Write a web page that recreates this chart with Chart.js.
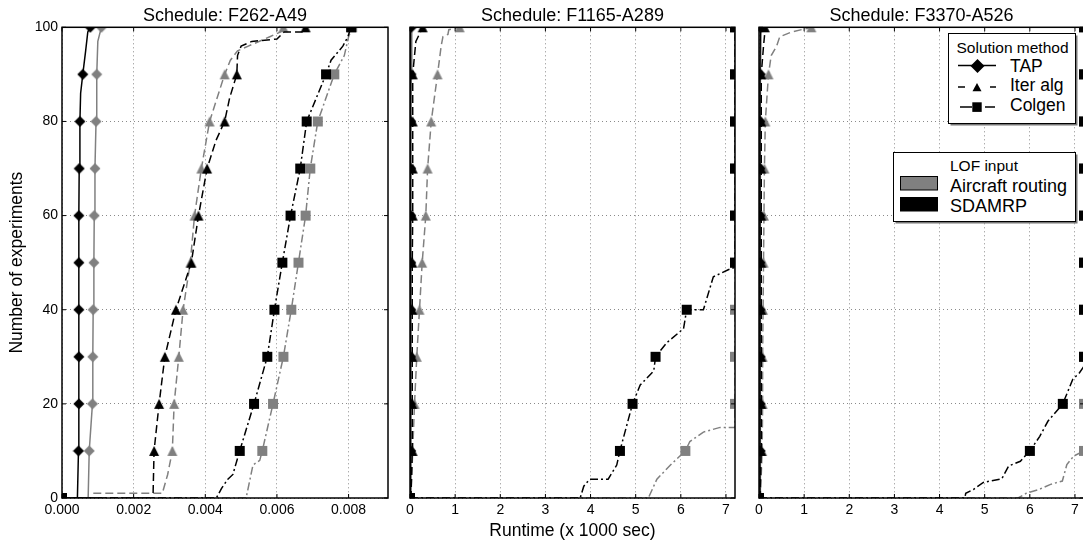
<!DOCTYPE html>
<html>
<head>
<meta charset="utf-8">
<script src="https://cdn.jsdelivr.net/npm/chart.js@4.4.0/dist/chart.umd.min.js"></script>
<style>
  html, body { margin: 0; padding: 0; background: #fff; width: 1083px; height: 545px; overflow: hidden; position: relative; }
  canvas { position: absolute; top: 0; }
  #legends { position: absolute; left: 880px; top: 28px; }
  #legends text { font-family: 'Liberation Sans', Arial, sans-serif; fill: #000; }
</style>
</head>
<body>
<canvas id="p1" width="450" height="545" style="left:0px"></canvas>
<canvas id="p2" width="349" height="545" style="left:398px"></canvas>
<canvas id="p3" width="353" height="545" style="left:745px"></canvas>

<svg id="legends" width="203" height="200">
  <!-- Solution method -->
  <rect x="70.5" y="7.5" width="127" height="90" fill="#777"/>
  <rect x="68.5" y="5.5" width="127" height="90" fill="#fff" stroke="#000" stroke-width="1"/>
  <text x="132.5" y="25" font-size="15.5" text-anchor="middle">Solution method</text>
  <line x1="78" y1="37.5" x2="116" y2="37.5" stroke="#000" stroke-width="1.5"/>
  <polygon points="97.5,31 104.5,38 97.5,45 90.5,38" fill="#000"/>
  <text x="130" y="43.5" font-size="17.5">TAP</text>
  <line x1="78" y1="59" x2="85" y2="59" stroke="#000" stroke-width="1.5"/>
  <line x1="110" y1="59" x2="116" y2="59" stroke="#000" stroke-width="1.5"/>
  <polygon points="97,55 101.5,63.3 92.5,63.3" fill="#000"/>
  <text x="130" y="63" font-size="17.5">Iter alg</text>
  <line x1="80" y1="79" x2="92" y2="79" stroke="#000" stroke-width="1.5"/>
  <line x1="105" y1="79" x2="115" y2="79" stroke="#000" stroke-width="1.5"/>
  <rect x="92.3" y="74.3" width="9.4" height="9.6" fill="#000"/>
  <text x="130" y="83" font-size="17.5">Colgen</text>
  <!-- LOF input -->
  <rect x="15.5" y="126.5" width="182" height="69" fill="#777"/>
  <rect x="13.5" y="124.5" width="182" height="69" fill="#fff" stroke="#000" stroke-width="1"/>
  <text x="104" y="143" font-size="15.5" text-anchor="middle">LOF input</text>
  <rect x="20.5" y="148.5" width="37" height="13.5" fill="#808080" stroke="#000" stroke-width="1"/>
  <text x="70" y="163.7" font-size="18">Aircraft routing</text>
  <rect x="20.5" y="169.5" width="37" height="13.5" fill="#000" stroke="#000" stroke-width="1"/>
  <text x="70" y="183.7" font-size="18">SDAMRP</text>
</svg>

<script>
// cumulative number of experiments solved vs runtime (x 1000 sec)
// panel 1: F262-A49
const p1TapSdamrp = [[0,0],[0.00043,0],[0.00046,10],[0.00047,20],[0.00047,30],[0.00047,40],[0.00047,50],[0.00047,60],[0.00048,70],[0.0005,80],[0.00052,86],[0.00058,90],[0.00066,95],[0.00072,99],[0.00079,100]];
const p1TapAir    = [[0,0],[0.00073,0],[0.00076,10],[0.00085,20],[0.00086,30],[0.00087,40],[0.00089,50],[0.0009,60],[0.00092,70],[0.00095,80],[0.00097,90],[0.001,97],[0.0011,100]];
const p1IterSdamrp = [[0,0],[0.00254,0],[0.00257,10],[0.00271,20],[0.00287,30],[0.00318,40],[0.00361,50],[0.00381,60],[0.00405,70],[0.0043,76],[0.00454,80],[0.00468,85],[0.00488,90],[0.0049,94],[0.005,96],[0.0053,97],[0.006,97.5],[0.0062,99],[0.0067,99],[0.0068,100]];
const p1IterAir    = [[0,0],[0.00087,0],[0.00087,1],[0.0028,1],[0.00295,5],[0.00308,10],[0.00313,20],[0.00326,30],[0.00338,40],[0.00358,50],[0.0037,60],[0.00389,70],[0.00412,80],[0.00454,90],[0.0047,93],[0.0049,95],[0.0052,96],[0.0058,98],[0.0061,99],[0.00618,100]];
const p1ColSdamrp = [[0,0],[0.00431,0],[0.00445,2],[0.00463,4],[0.00477,5],[0.00496,10],[0.00536,20],[0.00573,30],[0.00593,40],[0.00615,50],[0.00638,60],[0.00665,70],[0.00683,80],[0.00737,90],[0.00751,93],[0.00784,96],[0.00798,98],[0.00807,100]];
const p1ColAir    = [[0,0],[0.00514,0],[0.00533,7],[0.00552,8],[0.00559,10],[0.00589,20],[0.00618,30],[0.0064,40],[0.0066,50],[0.0068,60],[0.00693,70],[0.00714,80],[0.0076,90],[0.00788,94],[0.008,98],[0.0081,100]];

// panel 2: F1165-A289
const p2TapSdamrp = [[0,0],[0.01,0],[0.01,10],[0.01,20],[0.01,30],[0.01,40],[0.01,50],[0.01,60],[0.01,70],[0.01,80],[0.01,90],[0.02,100]];
const p2TapAir    = [[0,0],[0.02,0],[0.02,10],[0.02,20],[0.02,30],[0.02,40],[0.02,50],[0.02,60],[0.02,70],[0.02,80],[0.03,90],[0.04,100]];
const p2IterSdamrp = [[0,0],[0.02,0],[0.05,10],[0.05,20],[0.05,30],[0.05,40],[0.05,50],[0.06,60],[0.06,70],[0.06,80],[0.06,90],[0.13,97],[0.28,100]];
const p2IterAir    = [[0,0],[0.02,0],[0.06,10],[0.1,20],[0.15,30],[0.21,40],[0.27,50],[0.35,60],[0.39,70],[0.47,80],[0.61,90],[0.69,96],[0.73,98],[0.84,98.5],[0.86,99.5],[1.1,100]];
const p2ColSdamrp = [[0,0],[3.77,0],[3.85,2.5],[3.98,4],[4.39,4],[4.58,7],[4.65,10],[4.93,20],[5.1,24],[5.4,27],[5.44,30],[5.69,33],[6.06,36],[6.13,40],[6.5,40],[6.72,47],[7.05,48.5],[7.2,49],[7.2,50],[7.2,60],[7.2,70],[7.2,80],[7.2,90],[7.2,100]];
const p2ColAir    = [[0,0],[5.28,0],[5.47,4],[5.77,7],[6.1,10],[6.2,12],[6.5,14],[6.87,15],[7.2,15],[7.2,20],[7.2,30],[7.2,40],[7.2,50],[7.2,60],[7.2,70],[7.2,80],[7.2,90],[7.2,100]];

// panel 3: F3370-A526
const p3TapSdamrp = [[0,0],[0.02,0],[0.02,10],[0.02,20],[0.02,30],[0.02,40],[0.02,50],[0.02,60],[0.02,70],[0.02,80],[0.02,90],[0.03,100]];
const p3TapAir    = [[0,0],[0.03,0],[0.03,10],[0.03,20],[0.03,30],[0.03,40],[0.03,50],[0.03,60],[0.03,70],[0.03,80],[0.04,90],[0.05,100]];
const p3IterSdamrp = [[0,0],[0.02,0],[0.05,10],[0.05,20],[0.05,30],[0.05,40],[0.05,50],[0.05,60],[0.05,70],[0.05,80],[0.05,90],[0.1,96],[0.13,99],[0.13,100]];
const p3IterAir    = [[0,0],[0.03,0],[0.07,10],[0.08,20],[0.08,30],[0.09,40],[0.1,50],[0.11,60],[0.12,70],[0.14,80],[0.21,90],[0.27,94],[0.39,96],[0.46,98],[0.72,99],[1.16,100]];
const p3ColSdamrp = [[0,0],[4.56,0],[4.58,1],[4.75,1.8],[4.97,3.3],[5.38,4.1],[5.53,6.8],[5.79,7.8],[6.0,10],[6.22,13.1],[6.4,16.3],[6.73,20],[6.95,25.2],[7.1,26.6],[7.2,28],[7.2,30],[7.2,40],[7.2,50],[7.2,60],[7.2,70],[7.2,80],[7.2,90],[7.2,100]];
const p3ColAir    = [[0,0],[5.74,0],[5.92,1],[6.2,1.8],[6.46,2.9],[6.72,3.6],[6.82,7.1],[6.97,8.9],[7.2,10],[7.2,20],[7.2,30],[7.2,40],[7.2,50],[7.2,60],[7.2,70],[7.2,80],[7.2,90],[7.2,100]];

const titles = ['Schedule: F262-A49', 'Schedule: F1165-A289', 'Schedule: F3370-A526'];
const yTicks = [0, 20, 40, 60, 80, 100];

Chart.defaults.font.family = "'Liberation Sans', Arial, sans-serif";
Chart.defaults.color = '#000';

const GRAY = '#808080';
const BLACK = '#000000';
const DASH = { tap: [], iter: [8, 4], col: [8, 3, 2, 3] };

// matplotlib-like markers: D, ^, s
function markerImage(shape, color) {
  const c = document.createElement('canvas');
  c.width = 12; c.height = 12;
  const g = c.getContext('2d');
  g.fillStyle = color;
  g.beginPath();
  if (shape === 'tap') { g.moveTo(6, 0.5); g.lineTo(11.5, 6); g.lineTo(6, 11.5); g.lineTo(0.5, 6); }
  else if (shape === 'iter') { g.moveTo(6, 1); g.lineTo(11, 11); g.lineTo(1, 11); }
  else { g.rect(1, 1, 10, 10); }
  g.closePath();
  g.fill();
  return c;
}

// a marker every 10 experiments
function isMark(ctx) {
  if (ctx.type !== 'data') return false;
  const d = ctx.dataset.data, i = ctx.dataIndex, y = d[i].y;
  return y % 10 === 0 && (i === 0 || d[i - 1].y !== y);
}

function series(pts, method, lof) {
  const color = lof === 'air' ? GRAY : BLACK;
  return {
    data: pts.map(([x, y]) => ({ x, y })),
    borderColor: color,
    borderWidth: 1.5,
    borderDash: DASH[method],
    pointStyle: markerImage(method, color),
    pointRadius: (ctx) => isMark(ctx) ? 5 : 0,
    pointHoverRadius: 0,
    pointBorderWidth: 0,
    tension: 0,
    fill: false,
    clip: 0,
    order: lof === 'air' ? 1 : 0
  };
}

// frame + inward ticks on all four sides
const framePlugin = {
  id: 'frame',
  afterDraw(chart) {
    const { ctx, chartArea: a, scales: { x, y } } = chart;
    ctx.save();
    ctx.strokeStyle = '#000';
    ctx.lineWidth = 1;
    ctx.beginPath();
    x.ticks.forEach(t => {
      const px = x.getPixelForValue(t.value);
      ctx.moveTo(px, a.bottom); ctx.lineTo(px, a.bottom - 4);
      ctx.moveTo(px, a.top); ctx.lineTo(px, a.top + 4);
    });
    y.ticks.forEach(t => {
      const py = y.getPixelForValue(t.value);
      ctx.moveTo(a.left, py); ctx.lineTo(a.left + 4, py);
      ctx.moveTo(a.right, py); ctx.lineTo(a.right - 4, py);
    });
    ctx.stroke();
    ctx.lineWidth = 1.5;
    ctx.strokeRect(a.left, a.top, a.right - a.left, a.bottom - a.top);
    ctx.restore();
  }
};

function makePanel(id, idx, sets, xMax, xStep, xFmt, yWidth) {
  const first = idx === 0;
  new Chart(document.getElementById(id), {
    type: 'line',
    data: { datasets: sets },
    options: {
      responsive: false,
      animation: false,
      events: [],
      layout: { padding: { left: 0, right: yWidth, top: 0, bottom: 0 } },
      plugins: {
        legend: { display: false },
        tooltip: { enabled: false },
        title: {
          display: true,
          fullSize: false,
          text: titles[idx],
          color: '#000',
          font: { size: 18, weight: 'normal' },
          padding: { top: 5.2, bottom: 0.5 }
        }
      },
      scales: {
        x: {
          type: 'linear',
          min: 0,
          max: xMax,
          border: { display: false, dash: [1, 3] },
          grid: { color: '#8a8a8a', lineWidth: 1, drawTicks: false },
          ticks: {
            stepSize: xStep,
            includeBounds: false,
            padding: 4,
            color: '#000',
            font: { size: 14 },
            maxRotation: 0,
            callback: (v) => xFmt(v)
          },
          title: {
            display: idx === 1,
            text: 'Runtime (x 1000 sec)',
            color: '#000',
            font: { size: 17.5 },
            padding: { top: 4, bottom: 3.5 }
          },
          afterFit: (s) => { s.height = 47; }
        },
        y: {
          type: 'linear',
          min: 0,
          max: 100,
          border: { display: false, dash: [1, 3] },
          grid: { color: '#8a8a8a', lineWidth: 1, drawTicks: false },
          afterBuildTicks: (s) => { s.ticks = yTicks.map(v => ({ value: v })); },
          ticks: {
            display: first,
            padding: 4,
            color: '#000',
            font: { size: 14 }
          },
          title: {
            display: first,
            text: 'Number of experiments',
            color: '#000',
            font: { size: 17.5 },
            padding: { top: 6.5, bottom: 0 }
          },
          afterFit: (s) => { s.width = yWidth; }
        }
      }
    },
    plugins: [framePlugin]
  });
}

makePanel('p1', 0, [
  series(p1ColSdamrp, 'col', 'sdamrp'), series(p1IterSdamrp, 'iter', 'sdamrp'), series(p1TapSdamrp, 'tap', 'sdamrp'),
  series(p1ColAir, 'col', 'air'), series(p1IterAir, 'iter', 'air'), series(p1TapAir, 'tap', 'air')
], 0.0091, 0.002, (v) => v.toFixed(3), 62);

makePanel('p2', 1, [
  series(p2ColSdamrp, 'col', 'sdamrp'), series(p2IterSdamrp, 'iter', 'sdamrp'), series(p2TapSdamrp, 'tap', 'sdamrp'),
  series(p2ColAir, 'col', 'air'), series(p2IterAir, 'iter', 'air'), series(p2TapAir, 'tap', 'air')
], 7.2, 1, (v) => String(Math.round(v)), 12);

makePanel('p3', 2, [
  series(p3ColSdamrp, 'col', 'sdamrp'), series(p3IterSdamrp, 'iter', 'sdamrp'), series(p3TapSdamrp, 'tap', 'sdamrp'),
  series(p3ColAir, 'col', 'air'), series(p3IterAir, 'iter', 'air'), series(p3TapAir, 'tap', 'air')
], 7.2, 1, (v) => String(Math.round(v)), 14);
</script>
</body>
</html>
